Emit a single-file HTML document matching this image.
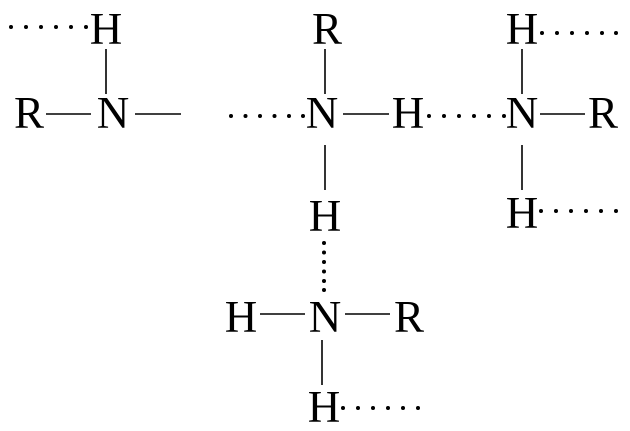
<!DOCTYPE html>
<html><head><meta charset="utf-8"><style>
html,body{margin:0;padding:0;background:#fff;}
svg{display:block}
text{font-family:"Liberation Serif","Times New Roman",Times,serif;font-size:45px;fill:#000;text-anchor:middle}
line{stroke:#000;stroke-width:1.6}
</style></head><body>
<svg width="630" height="431" viewBox="0 0 630 431" xmlns="http://www.w3.org/2000/svg" font-family="Liberation Serif, Times New Roman, serif">
<g fill="#000">
<circle cx="11" cy="27" r="2"/><circle cx="26" cy="27" r="2"/><circle cx="41" cy="27" r="2"/><circle cx="56" cy="27" r="2"/><circle cx="71" cy="27" r="2"/><circle cx="86" cy="27" r="2"/>
<circle cx="231" cy="116" r="2"/><circle cx="245.5" cy="116" r="2"/><circle cx="260" cy="116" r="2"/><circle cx="274.5" cy="116" r="2"/><circle cx="289" cy="116" r="2"/><circle cx="303" cy="116" r="2"/>
<circle cx="429" cy="116" r="2"/><circle cx="444" cy="116" r="2"/><circle cx="459" cy="116" r="2"/><circle cx="474" cy="116" r="2"/><circle cx="489" cy="116" r="2"/><circle cx="504" cy="116" r="2"/>
<circle cx="542" cy="33" r="2"/><circle cx="557" cy="33" r="2"/><circle cx="572" cy="33" r="2"/><circle cx="587" cy="33" r="2"/><circle cx="602" cy="33" r="2"/><circle cx="616" cy="33" r="2"/>
<circle cx="541" cy="211" r="2"/><circle cx="556" cy="211" r="2"/><circle cx="571" cy="211" r="2"/><circle cx="586" cy="211" r="2"/><circle cx="601" cy="211" r="2"/><circle cx="616" cy="211" r="2"/>
<circle cx="324" cy="243" r="2"/><circle cx="324" cy="252.5" r="2"/><circle cx="324" cy="262" r="2"/><circle cx="324" cy="271.5" r="2"/><circle cx="324" cy="281" r="2"/><circle cx="324" cy="290" r="2"/>
<circle cx="343" cy="408" r="2"/><circle cx="358" cy="408" r="2"/><circle cx="373" cy="408" r="2"/><circle cx="388" cy="408" r="2"/><circle cx="403" cy="408" r="2"/><circle cx="418" cy="408" r="2"/>
</g>
<line x1="106" y1="49" x2="106" y2="94"/>
<line x1="46" y1="114" x2="91" y2="114"/>
<line x1="135" y1="114" x2="181" y2="114"/>
<line x1="325" y1="49" x2="325" y2="94"/>
<line x1="343" y1="114" x2="389" y2="114"/>
<line x1="540" y1="114" x2="585" y2="114"/>
<line x1="522" y1="49" x2="522" y2="94"/>
<line x1="325" y1="145" x2="325" y2="190"/>
<line x1="522" y1="145" x2="522" y2="190"/>
<line x1="260" y1="314" x2="305" y2="314"/>
<line x1="345" y1="314" x2="390" y2="314"/>
<line x1="322" y1="340" x2="322" y2="385"/>
<text x="106" y="44">H</text>
<text x="29" y="128">R</text>
<text x="113" y="128">N</text>
<text x="327" y="44">R</text>
<text x="322" y="128">N</text>
<text x="408" y="128">H</text>
<text x="522" y="128">N</text>
<text x="603" y="128">R</text>
<text x="522" y="44">H</text>
<text x="325" y="231">H</text>
<text x="522" y="228">H</text>
<text x="241" y="332">H</text>
<text x="325" y="332">N</text>
<text x="409" y="332">R</text>
<text x="324" y="422">H</text>
</svg>
</body></html>
